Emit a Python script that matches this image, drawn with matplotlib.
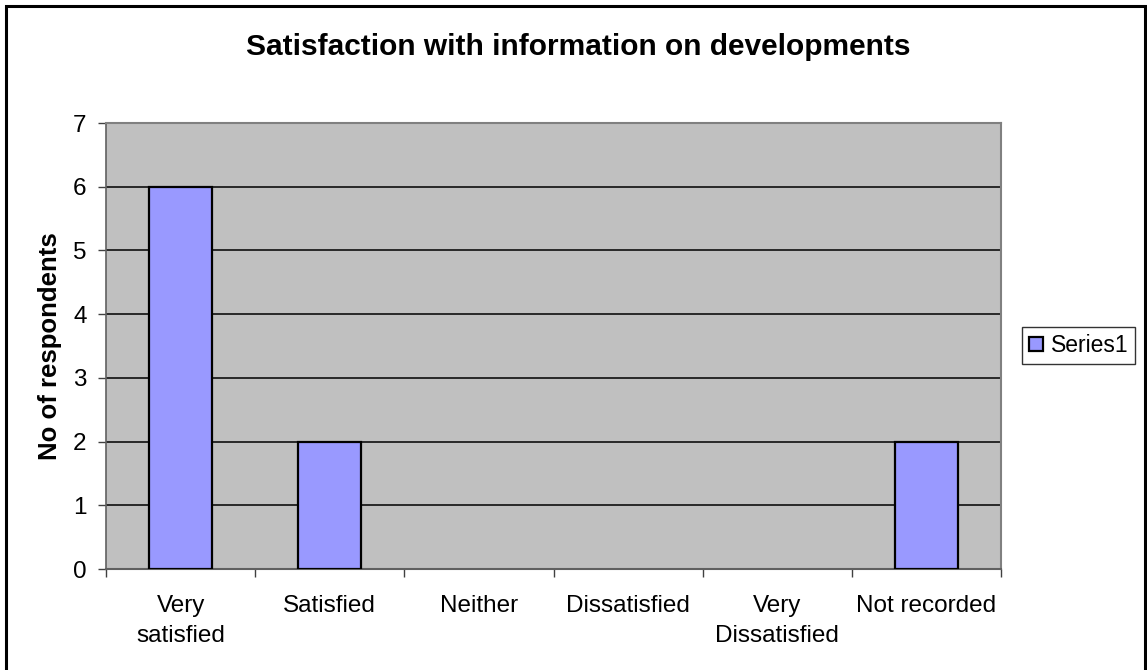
import matplotlib.pyplot as plt
from matplotlib.patches import Rectangle

categories = ["Very\nsatisfied", "Satisfied", "Neither", "Dissatisfied",
              "Very\nDissatisfied", "Not recorded"]
values = [6, 2, 0, 0, 0, 2]
series_name = "Series1"

plt.rcParams['font.family'] = ['Liberation Sans', 'DejaVu Sans']

fig = plt.figure(figsize=(11.47, 6.70), dpi=100)
ax = fig.add_axes([106 / 1147, 101 / 670, 895 / 1147, 446 / 670])

# outer chart frame
fig.patches.append(Rectangle((6 / 1147, -0.01), 1139 / 1147, 1 - 6 / 670 + 0.01,
                             transform=fig.transFigure, fill=False,
                             edgecolor='black', linewidth=2.2))

x = list(range(len(categories)))
edges = ['black' if v > 0 else 'none' for v in values]
ax.set_facecolor('#C0C0C0')
ax.bar(x, values, width=0.42, color='#9999FF', edgecolor=edges,
       linewidth=1.6, label=series_name, zorder=3)

ax.set_xlim(-0.5, len(categories) - 0.5)
ax.set_ylim(0, 7)
ax.set_yticks(range(0, 8))
ax.yaxis.grid(True, color='black', linewidth=1.1, zorder=1)
ax.set_axisbelow(True)

ax.set_xticks(x)
ax.set_xticklabels(categories, fontsize=17.5, linespacing=1.45)
ax.tick_params(axis='x', which='major', length=0, pad=19)
ax.set_xticks([i - 0.5 for i in range(len(categories) + 1)], minor=True)
ax.tick_params(axis='x', which='minor', length=6, width=1, color='#404040')
ax.tick_params(axis='y', labelsize=17.5, length=6, width=1, color='#404040', pad=8)

for side in ['top', 'right', 'bottom']:
    ax.spines[side].set_color('#808080')
    ax.spines[side].set_linewidth(1.5)
ax.spines['left'].set_color('#606060')
ax.spines['left'].set_linewidth(1.2)
ax.spines['bottom'].set_color('#606060')

ax.set_ylabel("No of respondents", fontsize=18.5, fontweight='bold', labelpad=8)
fig.text(578 / 1147, 1 - 47 / 670, "Satisfaction with information on developments",
         ha='center', va='center', fontsize=21.5, fontweight='bold')

leg = ax.legend(loc='upper left', bbox_to_anchor=(1022 / 1147, 1 - 327 / 670),
                bbox_transform=fig.transFigure, fontsize=16.5, frameon=True,
                fancybox=False, edgecolor='black', handlelength=0.6,
                handleheight=0.6, handletextpad=0.35, borderpad=0.3,
                borderaxespad=0)
leg.get_frame().set_linewidth(1.0)

fig.savefig("out.png", dpi=100)
